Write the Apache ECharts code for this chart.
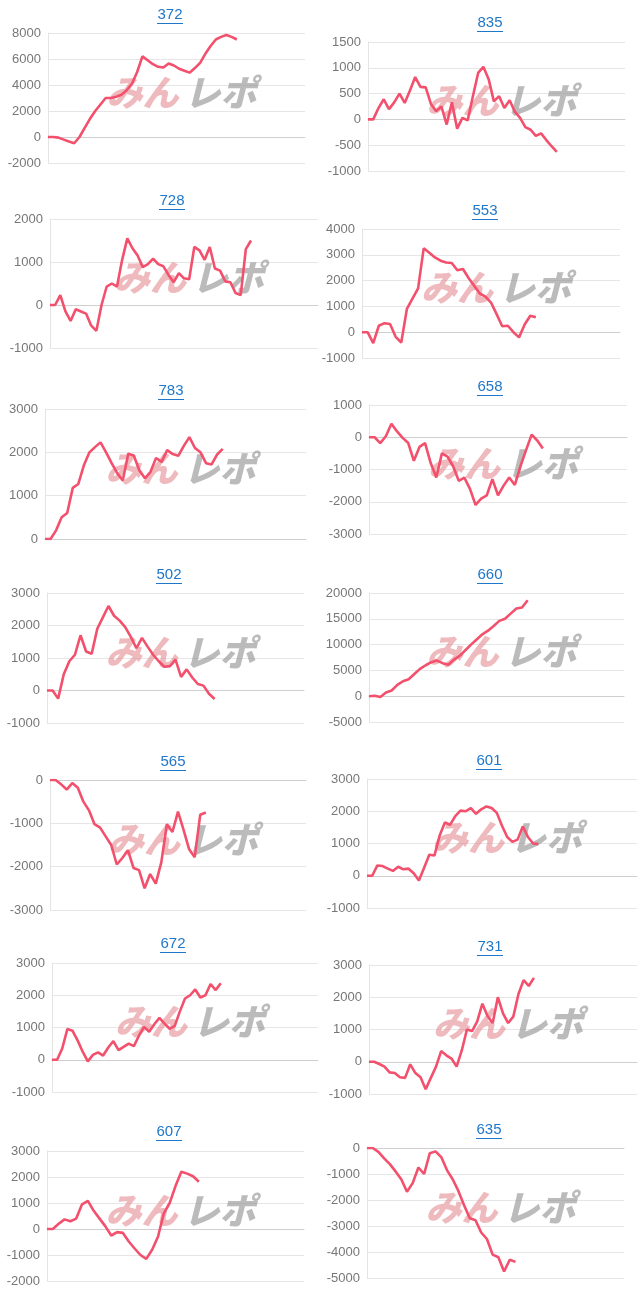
<!DOCTYPE html>
<html><head><meta charset="utf-8">
<script src="https://cdn.jsdelivr.net/npm/echarts@6/dist/echarts.min.js"></script>
<style>html,body{margin:0;padding:0;background:#fff}#c{width:640px;height:1303px}</style>
</head><body><div id="c"></div>
<script>
const titles = ["372","835","728","553","783","658","502","660","565","601","672","731","607","635"];
const v372 = [0,0,-50,-200,-350,-480,0,700,1400,2000,2500,3000,3000,3100,3250,3600,4100,5000,6200,5900,5600,5400,5350,5650,5500,5250,5100,4950,5300,5700,6400,7000,7500,7700,7850,7700,7500];
const v835 = [0,0,220,390,200,330,500,320,560,820,630,620,300,160,250,-100,330,-180,30,-20,450,900,1020,780,350,450,220,370,150,30,-150,-200,-320,-270,-400,-520,-630];
const v728 = [0,0,230,-150,-370,-100,-150,-200,-480,-600,0,430,500,430,1050,1550,1320,1150,880,950,1080,950,900,700,530,740,620,600,1350,1270,1050,1350,850,800,550,530,280,230,1300,1500];
const v553 = [0,0,-420,250,350,320,-180,-400,900,1300,1700,3250,3080,2900,2770,2700,2680,2400,2450,2100,1800,1500,1380,1150,700,230,250,0,-200,300,640,580];
const v783 = [0,0,200,500,600,1180,1270,1700,2000,2120,2230,2000,1750,1520,1350,1970,1920,1580,1400,1550,1870,1780,2050,1960,1920,2150,2350,2100,2000,1750,1720,1950,2080];
const v658 = [0,0,-180,30,420,180,-20,-180,-730,-300,-180,-800,-1250,-500,-600,-900,-1350,-1250,-1600,-2100,-1900,-1800,-1300,-1800,-1500,-1250,-1480,-900,-400,80,-100,-350];
const v502 = [0,0,-250,500,900,1100,1700,1200,1130,1900,2250,2600,2300,2150,1950,1650,1300,1620,1350,1100,900,730,750,950,420,650,400,200,150,-100,-260];
const v660 = [0,100,-150,700,1100,2200,2900,3300,4300,5300,6000,6600,6900,6400,6100,7100,7800,8900,10000,11000,12000,12700,13600,14600,15000,16000,17000,17200,18600];
const v565 = [0,0,-100,-220,-70,-180,-500,-700,-1020,-1100,-1300,-1500,-1950,-1800,-1620,-2030,-2080,-2500,-2170,-2390,-1900,-1020,-1200,-730,-1150,-1600,-1780,-800,-750];
const v601 = [0,0,320,300,220,150,280,200,220,80,-150,250,650,630,1250,1650,1580,1850,2020,2000,2100,1920,2060,2150,2100,1950,1550,1200,1050,1120,1530,1200,1000,980];
const v672 = [0,0,350,950,900,600,250,-50,150,230,130,380,580,300,400,500,420,750,1020,870,1100,1300,1120,960,1050,1500,1900,2000,2180,1930,2000,2350,2160,2370];
const v731 = [0,0,-70,-150,-330,-350,-480,-500,-80,-350,-480,-850,-500,-150,330,200,100,-150,350,1000,950,1250,1800,1420,1200,2000,1500,1200,1400,2100,2530,2350,2600];
const v607 = [0,0,200,370,300,400,950,1080,700,400,100,-250,-120,-150,-480,-750,-1000,-1150,-800,-300,600,1000,1650,2200,2130,2030,1820];
const v635 = [0,0,-150,-400,-620,-900,-1200,-1680,-1350,-750,-1000,-200,-130,-350,-850,-1200,-1650,-2200,-2700,-2780,-3250,-3500,-4100,-4200,-4750,-4300,-4380];
const series = [v372,v835,v728,v553,v783,v658,v502,v660,v565,v601,v672,v731,v607,v635];
const slots = [50,50,53,47,48,47,47,46,47,53,53,53,45,46];
const yMin = [-2000,-1000,-1000,-1000,0,-3000,-1000,-5000,-3000,-1000,-1000,-1000,-2000,-5000];
const yMax = [8000,1500,2000,4000,3000,1000,3000,20000,0,3000,3000,3000,3000,0];
const yInt = [2000,500,1000,1000,1000,1000,1000,5000,1000,1000,1000,1000,1000,1000];

const gx = [[48,305],[368,625],[50,318],[362,620],[45,306],[369,627],[47,304],[369,624],[50,306],[367,637],[52,318],[369,637],[47,304],[367,624]];
const gy = [[33,163],[42,171],[219,348],[229,358],[409,539],[405,534],[593,723],[593,722],[780,910],[779,908],[963,1092],[965,1094],[1151,1281],[1148,1278]];
const tpos = [[170,15],[490,23],[172,201],[485,211],[171,391],[490,387],[169,575],[490,575],[173,762],[489,761],[173,944],[490,947],[169,1132],[489,1130]];

const grid=[],xAxis=[],yAxis=[],ser=[],graphic=[];
series.forEach((d,i)=>{
  grid.push({left:gx[i][0],top:gy[i][0],width:gx[i][1]-gx[i][0],height:gy[i][1]-gy[i][0],containLabel:false});
  xAxis.push({type:'category',gridIndex:i,boundaryGap:false,data:Array.from({length:slots[i]},(_,k)=>String(k+1)),
    axisLabel:{show:false},axisTick:{show:false},axisLine:{show:true,onZero:true,lineStyle:{color:'#cfcfcf'}}});
  yAxis.push({type:'value',gridIndex:i,min:yMin[i],max:yMax[i],interval:yInt[i],
    axisLabel:{color:'#777',fontSize:13,fontFamily:'Arial, "Liberation Sans", sans-serif',margin:7,formatter:v=>String(v)},
    axisLine:{show:true,lineStyle:{color:'#e4e4e4'}},axisTick:{show:false},
    splitLine:{lineStyle:{color:'#e6e6e6'}}});
  ser.push({type:'line',xAxisIndex:i,yAxisIndex:i,data:d,showSymbol:false,symbol:'none',z:5,
    lineStyle:{color:'#f2506c',width:2.6}});
  graphic.push({type:'text',x:tpos[i][0],y:tpos[i][1],z:10,style:{text:titles[i],fill:'#1f77c9',
    font:'15px Arial, "Liberation Sans", sans-serif',align:'center',verticalAlign:'middle'}});
  graphic.push({type:'rect',shape:{x:tpos[i][0]-13,y:tpos[i][1]+8,width:26,height:1},style:{fill:'#1f77c9'}});
  const cx=(gx[i][0]+gx[i][1])/2+10, cy=(gy[i][0]+gy[i][1])/2-6;
  graphic.push({type:'text',x:cx-80,y:cy,z:1,style:{text:'みん',font:'italic 900 36px "Noto Sans CJK JP"',fill:'rgba(228,140,145,0.6)',verticalAlign:'middle'}});
  graphic.push({type:'text',x:cx-2,y:cy,z:1,style:{text:'レポ',font:'italic 900 36px "Noto Sans CJK JP"',fill:'rgba(150,150,150,0.65)',verticalAlign:'middle'}});
});
const chart = echarts.init(document.getElementById('c'),null,{renderer:'canvas'});
chart.setOption({animation:false,backgroundColor:'#fff',grid,xAxis,yAxis,series:ser,graphic});
</script></body></html>
